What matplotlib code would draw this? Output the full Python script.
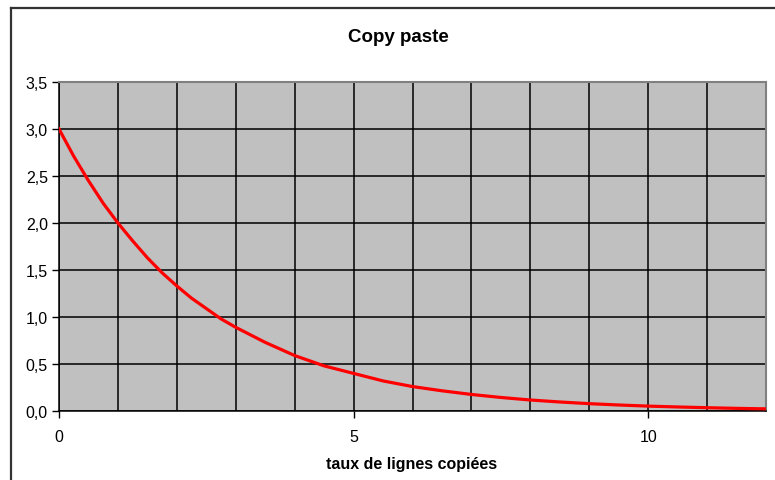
import matplotlib.pyplot as plt
from matplotlib.lines import Line2D

# valeurs
taux = [0, 0.25, 0.5, 0.75, 1, 1.25, 1.5, 1.75, 2, 2.25, 2.5, 2.75, 3,
        3.5, 4, 4.5, 5, 5.5, 6, 6.5, 7, 7.5, 8, 8.5, 9, 9.5, 10, 10.5,
        11, 11.5, 12]
valeurs = [3.00, 2.71, 2.45, 2.21, 2.00, 1.81, 1.63, 1.47, 1.33, 1.20,
           1.09, 0.98, 0.89, 0.73, 0.59, 0.48, 0.40, 0.32, 0.26, 0.215,
           0.176, 0.144, 0.117, 0.096, 0.078, 0.064, 0.052, 0.043, 0.035,
           0.028, 0.023]
y_ticks = [0, 0.5, 1.0, 1.5, 2.0, 2.5, 3.0, 3.5]
y_labels = ['0,0', '0,5', '1,0', '1,5', '2,0', '2,5', '3,0', '3,5']

plt.rcParams['font.family'] = ['Liberation Sans', 'DejaVu Sans']

W, H = 775, 481
fig = plt.figure(figsize=(W / 100, H / 100), dpi=100)
ax = fig.add_axes([59 / W, 1 - 412 / H, (766 - 59) / W, (412 - 83) / H])
ax.set_facecolor('#c0c0c0')

ax.plot(taux, valeurs, color='#ff0000', linewidth=2.3, solid_joinstyle='round', zorder=3)

ax.set_xlim(0, 12)
ax.set_ylim(0, 3.5)
ax.set_xticks([0, 5, 10])
ax.set_xticks(range(0, 13), minor=True)
ax.set_yticks(y_ticks)
ax.set_yticklabels(y_labels)
ax.tick_params(axis='x', which='minor', length=0)
ax.tick_params(axis='both', which='major', direction='out', length=5, width=1,
               labelsize=11.5, colors='black')
ax.tick_params(axis='x', pad=8)
ax.tick_params(axis='y', pad=3)

ax.grid(True, which='both', axis='x', color='black', linewidth=1.1)
ax.grid(True, which='major', axis='y', color='black', linewidth=1.1)
ax.set_axisbelow(True)

for s in ['top', 'right']:
    ax.spines[s].set_color('#808080')
    ax.spines[s].set_linewidth(1.5)
for s in ['left', 'bottom']:
    ax.spines[s].set_color('black')
    ax.spines[s].set_linewidth(1.1)

fig.text(398 / W, 1 - 38 / H, 'Copy paste', ha='center', va='center',
         fontsize=13.5, fontweight='bold')
fig.text(412 / W, 1 - 465 / H, 'taux de lignes copiées', ha='center', va='center',
         fontsize=11.5, fontweight='bold')

# cadre du graphique (coupé à droite et en bas)
fig.add_artist(Line2D([11 / W, 11 / W], [0, 1 - 9 / H], color='#333333', linewidth=1.6))
fig.add_artist(Line2D([11 / W, 1], [1 - 9 / H, 1 - 9 / H], color='#333333', linewidth=1.6))

fig.savefig('out.png', dpi=100)
